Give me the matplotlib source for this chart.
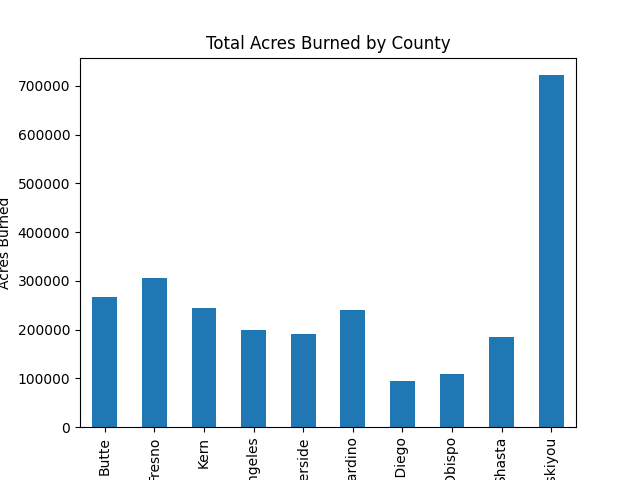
import matplotlib
matplotlib.use("Agg")
import matplotlib.pyplot as plt

counties = ["Butte", "Fresno", "Kern", "Los Angeles", "Riverside",
            "San Bernardino", "San Diego", "San Luis Obispo", "Shasta", "Siskiyou"]
acres = [267000, 306000, 245000, 199000, 191000,
         240000, 95000, 110000, 184000, 722000]

fig, ax = plt.subplots(figsize=(6.4, 4.8), dpi=100)
pos = range(len(counties))
ax.bar(pos, acres, width=0.5, color="#1f77b4")
ax.set_xticks(list(pos))
ax.set_xticklabels(counties, rotation=90)
ax.set_xlim(-0.5, len(counties) - 0.5)
ax.set_title("Total Acres Burned by County")
ax.set_ylabel("Acres Burned")

fig.savefig("out.png", dpi=100)
